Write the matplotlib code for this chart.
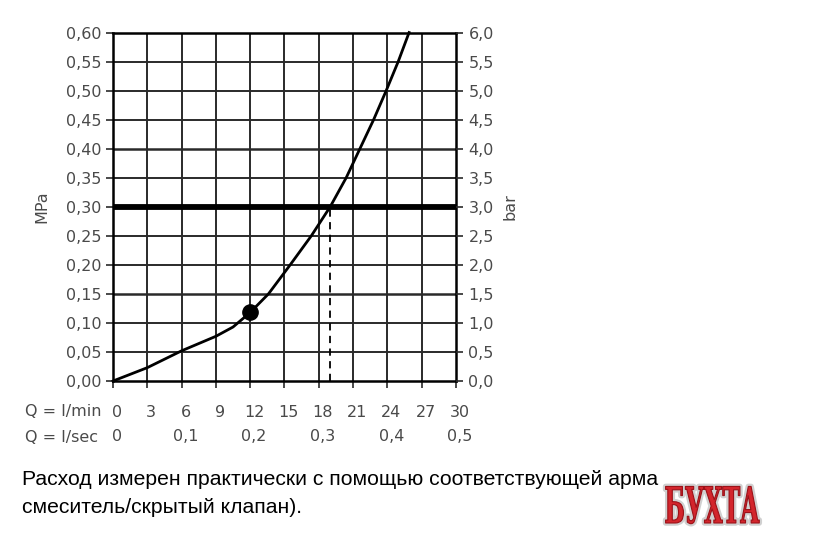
import numpy as np
import matplotlib.pyplot as plt
import matplotlib.patheffects as pe
from matplotlib.transforms import Affine2D, ScaledTranslation, blended_transform_factory

# Flow (l/min) vs. pressure (MPa)
flow_lmin = [0, 3, 6, 9, 10.5, 12, 13.6, 15.5, 17.35, 19.0, 20.4, 21.6, 22.8, 23.9, 24.95, 25.9]
pressure_mpa = [0, 0.023, 0.052, 0.077, 0.093, 0.118, 0.15, 0.20, 0.25, 0.30,
                0.35, 0.40, 0.45, 0.50, 0.55, 0.60]

# marked point and the 0.3 MPa reference
dot_q, dot_p = 12, 0.118
ref_q, ref_p = 19.0, 0.30

q_ticks = [0, 3, 6, 9, 12, 15, 18, 21, 24, 27, 30]
mpa_ticks = [0.00, 0.05, 0.10, 0.15, 0.20, 0.25, 0.30, 0.35, 0.40, 0.45, 0.50, 0.55, 0.60]
bar_ticks = [0.0, 0.5, 1.0, 1.5, 2.0, 2.5, 3.0, 3.5, 4.0, 4.5, 5.0, 5.5, 6.0]
sec_pos = [0, 6, 12, 18, 24, 30]
sec_labels = ['0', '0,1', '0,2', '0,3', '0,4', '0,5']

caption = ('Расход измерен практически с помощью соответствующей арма\n'
           'смеситель/скрытый клапан).')

label_color = '#4a4a4a'
grid_color = '#2a2a2a'


class TallText(pe.AbstractPathEffect):
    """Stretch text vertically around its centre, with outline and glow."""

    def __init__(self, sy=1.8, edge='#9c1118', glow='#d0d0d0'):
        super().__init__()
        self.sy = sy
        self.edge = edge
        self.glow = glow

    def draw_path(self, renderer, gc, tpath, affine, rgbFace=None):
        ext = tpath.get_extents(affine)
        cx, cy = ext.x0 + ext.width / 2, ext.y0 + ext.height / 2
        aff = affine + Affine2D().translate(-cx, -cy).scale(1, self.sy).translate(cx, cy)
        g = renderer.new_gc()
        g.copy_properties(gc)
        g.set_linewidth(4)
        g.set_foreground(self.glow)
        g.set_joinstyle('round')
        renderer.draw_path(g, tpath, aff, None)
        renderer.draw_path(gc, tpath, aff, rgbFace)
        e = renderer.new_gc()
        e.copy_properties(gc)
        e.set_linewidth(0.8)
        e.set_foreground(self.edge)
        renderer.draw_path(e, tpath, aff, None)
        g.restore()
        e.restore()


fig = plt.figure(figsize=(8.4, 5.41), dpi=100)
ax = fig.add_axes([0.1345, 0.2957, 0.4083, 0.6442])

ax.set_xlim(0, 30)
ax.set_ylim(0, 0.60)
ax.set_xticks(q_ticks)
ax.set_yticks(mpa_ticks)
ax.set_yticklabels([f'{v:.2f}'.replace('.', ',') for v in mpa_ticks])
ax.set_xticklabels([str(v) for v in q_ticks])

for v in q_ticks[1:-1]:
    ax.axvline(v, color=grid_color, lw=1.4, zorder=1)
for v in mpa_ticks[1:-1]:
    lw = 1.4
    if v in (0.15, 0.40):
        lw = 1.8
    ax.axhline(v, color=grid_color, lw=lw, zorder=1)
ax.axhline(ref_p, color='black', lw=4.2, zorder=2)

ax.plot(flow_lmin, pressure_mpa, color='black', lw=2.0, zorder=3, clip_on=False,
        solid_joinstyle='round')
ax.plot([dot_q], [dot_p], 'o', color='black', ms=11, zorder=4)
ax.plot([ref_q, ref_q], [0, ref_p], color='black', lw=1.3, ls=(0, (4, 3)), zorder=3)

for s in ax.spines.values():
    s.set_linewidth(1.8)
    s.set_color('black')

ax.tick_params(axis='both', direction='out', length=5, width=1.2, color=grid_color,
               labelcolor=label_color, labelsize=11.5)
ax.tick_params(axis='x', pad=12)
ax.tick_params(axis='y', pad=3)
off = ScaledTranslation(4 / 100, 0, fig.dpi_scale_trans)
for lab in ax.get_xticklabels():
    lab.set_transform(lab.get_transform() + off)

ax2 = ax.twinx()
ax2.set_ylim(0, 6.0)
ax2.set_yticks(bar_ticks)
ax2.set_yticklabels([f'{v:.1f}'.replace('.', ',') for v in bar_ticks])
ax2.tick_params(axis='y', direction='out', length=5, width=1.2, color=grid_color,
                labelcolor=label_color, labelsize=11.5, pad=4)
for s in ax2.spines.values():
    s.set_visible(False)

ax.set_ylabel('MPa', color=label_color, fontsize=11.5, labelpad=12)
ax2.set_ylabel('bar', color=label_color, fontsize=11.5, labelpad=6)

# second row: flow in l/sec
tr = blended_transform_factory(ax.transData, ax.transAxes)
for p, t in zip(sec_pos, sec_labels):
    ax.text(p, -0.159, t, transform=tr + off, ha='center', va='center',
            color=label_color, fontsize=11.5)
fig.text(0.03, 1 - 412 / 541, 'Q = l/min', ha='left', va='center', color=label_color, fontsize=11.5)
fig.text(0.03, 1 - 437 / 541, 'Q = l/sec', ha='left', va='center', color=label_color, fontsize=11.5)

fig.text(0.026, 1 - 493.5 / 541, caption, ha='left', va='center', fontsize=15.2,
         family='Liberation Sans', color='black', linespacing=1.55)

fig.text(712 / 840, 1 - 507 / 541, 'БУХТА', ha='center', va='center', fontsize=19,
         family='DejaVu Serif', fontstretch='condensed', weight='bold', color='#d3252c',
         path_effects=[TallText(sy=1.9)])

fig.savefig('out.png', dpi=100)
